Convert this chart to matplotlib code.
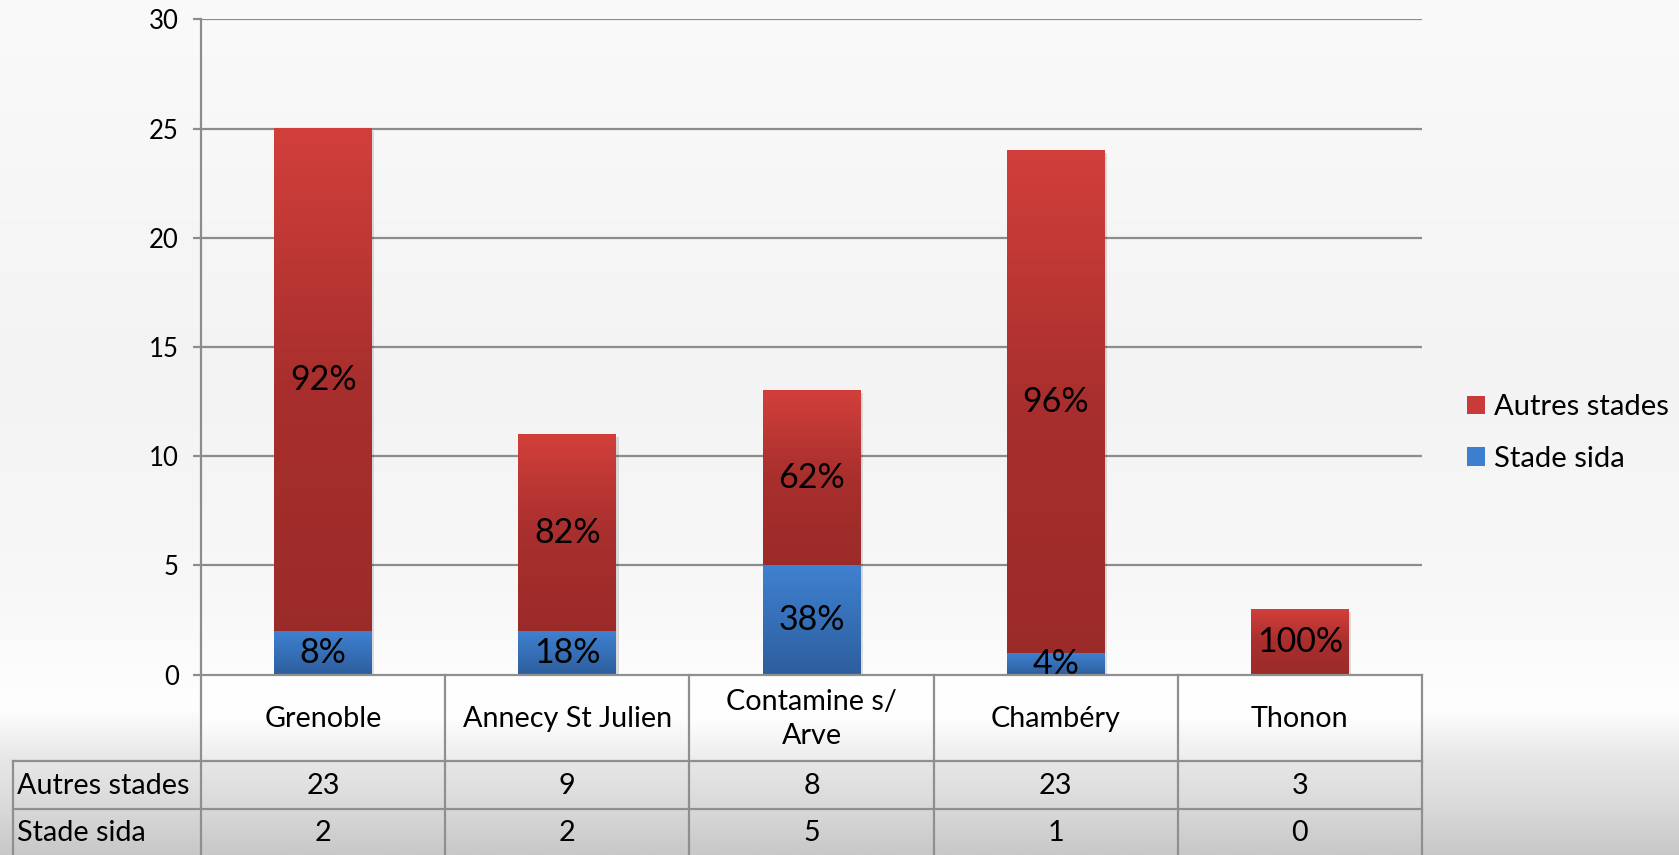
import numpy as np
import matplotlib
matplotlib.use("Agg")
import matplotlib.pyplot as plt
from matplotlib.colors import LinearSegmentedColormap
from matplotlib.patches import Rectangle
from matplotlib.transforms import ScaledTranslation

# ---- data ----
categories = ["Grenoble", "Annecy St Julien", "Contamine s/\nArve", "Chambéry", "Thonon"]
stade_sida = [2, 2, 5, 1, 0]
autres_stades = [23, 9, 8, 23, 3]
series_names = ["Autres stades", "Stade sida"]
yticks = [0, 5, 10, 15, 20, 25, 30]

plt.rcParams['font.family'] = ['Lato', 'DejaVu Sans']

W, H = 1679, 855
fig = plt.figure(figsize=(W / 100, H / 100), dpi=100)

# ---- background gradient ----
bg = fig.add_axes([0, 0, 1, 1], zorder=-10)
bg.set_axis_off()
stops = [(0.0, "#fafafa"), (0.45, "#f3f3f3"), (0.70, "#f8f8f8"), (0.83, "#fefefe"),
         (0.89, "#e7e7e7"), (0.947, "#d9d9d9"), (1.0, "#c8c8c8")]
bgcmap = LinearSegmentedColormap.from_list("bg", stops)
grad = np.linspace(0, 1, 512).reshape(-1, 1)
bg.imshow(grad, cmap=bgcmap, aspect="auto", extent=[0, 1, 0, 1], origin="upper")
bg.set_xlim(0, 1); bg.set_ylim(0, 1)

# ---- axes geometry (pixels) ----
x_left, x_right = 201, 1422
y_top, y_zero = 19.3, 674.6
ax = fig.add_axes([x_left / W, 1 - y_zero / H, (x_right - x_left) / W, (y_zero - y_top) / H])
ax.patch.set_alpha(0)

x = np.arange(len(categories))
bw = 0.4
red_cmap = LinearSegmentedColormap.from_list("red", ["#9b2b29", "#a82f2d", "#d23f3b"])
blue_cmap = LinearSegmentedColormap.from_list("blue", ["#2d5e9d", "#3f81d1"])

grid_c = "#8c8c8c"
for t in yticks[1:]:
    ax.axhline(t, color=grid_c, lw=1.6, zorder=0.5)

b1 = ax.bar(x, stade_sida, bw, color="#3d7fcf", zorder=2, label=series_names[1])
b2 = ax.bar(x, autres_stades, bw, bottom=stade_sida, color="#c83b38", zorder=2, label=series_names[0])

shadow_tr = ax.transData + ScaledTranslation(2.5 / 100, -2.5 / 100, fig.dpi_scale_trans)
vgrad = np.linspace(0, 1, 256).reshape(-1, 1)
for bars, cmap in ((b1, blue_cmap), (b2, red_cmap)):
    for p in bars:
        h = p.get_height()
        if h <= 0:
            continue
        x0, y0 = p.get_x(), p.get_y()
        sh = Rectangle((x0, y0), p.get_width(), h, transform=shadow_tr,
                       facecolor="#000000", alpha=0.12, edgecolor="none", zorder=1.5)
        ax.add_patch(sh)
        ax.imshow(vgrad, cmap=cmap, aspect="auto", origin="lower",
                  extent=[x0, x0 + p.get_width(), y0, y0 + h], zorder=2.5)

# percent labels
pfs = 24.5
for i in range(len(categories)):
    tot = stade_sida[i] + autres_stades[i]
    if stade_sida[i] > 0:
        ax.text(x[i], stade_sida[i] / 2, f"{round(100 * stade_sida[i] / tot)}%",
                ha="center", va="center", fontsize=pfs, color="#000000", zorder=4, clip_on=True)
    if autres_stades[i] > 0:
        ax.text(x[i], stade_sida[i] + autres_stades[i] / 2,
                f"{round(100 * autres_stades[i] / tot)}%",
                ha="center", va="center", fontsize=pfs, color="#000000", zorder=4, clip_on=True)

ax.set_xlim(-0.5, len(categories) - 0.5)
ax.set_ylim(0, 30)
ax.set_yticks(yticks)
ax.set_yticklabels([str(t) for t in yticks], fontsize=18.5)
ax.set_xticks([])
for s in ("top", "right", "bottom"):
    ax.spines[s].set_visible(False)
ax.spines["left"].set_color(grid_c)
ax.spines["left"].set_linewidth(1.6)
ax.tick_params(axis="y", length=6, width=1.6, color=grid_c, pad=10)

# ---- data table ----
rows_y = [y_zero, 761, 809.5, 855]
unit = (x_right - x_left) / len(categories)
lab_left = 12.8
xl = -0.5 - (x_left - lab_left) / unit
tab = fig.add_axes([lab_left / W, 0, (x_right - lab_left) / W, 1 - y_zero / H])
tab.patch.set_alpha(0)
tab.set_axis_off()

lc = "#8f8f8f"
lw = 1.6
cg = LinearSegmentedColormap.from_list("cg", ["#ffffff", "#fefefe", "#ececec"])
tab.imshow(np.linspace(0, 1, 256).reshape(-1, 1), cmap=cg, aspect="auto", origin="upper",
           extent=[-0.5, len(categories) - 0.5, rows_y[1], rows_y[0]], zorder=0)
tab.set_xlim(xl, len(categories) - 0.5)
tab.set_ylim(H, y_zero)

tab.plot([-0.5, len(categories) - 0.5], [y_zero, y_zero], color=lc, lw=lw, clip_on=False)
for yy in rows_y[1:3]:
    tab.plot([xl, len(categories) - 0.5], [yy, yy], color=lc, lw=lw, clip_on=False)
for k in range(len(categories) + 1):
    tab.plot([k - 0.5, k - 0.5], [y_zero, H], color=lc, lw=lw, clip_on=False)
tab.plot([xl, xl], [rows_y[1], H], color=lc, lw=lw, clip_on=False)

tfs = 20.7
for i, c in enumerate(categories):
    tab.text(i, (rows_y[0] + rows_y[1]) / 2 + 1, c, ha="center", va="center",
             fontsize=tfs, linespacing=1.38)
    tab.text(i, (rows_y[1] + rows_y[2]) / 2 + 1, str(autres_stades[i]), ha="center",
             va="center", fontsize=tfs)
    tab.text(i, (rows_y[2] + rows_y[3]) / 2 + 1, str(stade_sida[i]), ha="center",
             va="center", fontsize=tfs)
tab.text(xl + 0.018, (rows_y[1] + rows_y[2]) / 2 + 1, series_names[0], ha="left", va="center", fontsize=tfs)
tab.text(xl + 0.018, (rows_y[2] + rows_y[3]) / 2 + 1, series_names[1], ha="left", va="center", fontsize=tfs)

# ---- legend ----
leg = fig.legend(handles=[b2, b1], labels=series_names, loc="center left",
                 bbox_to_anchor=(1441 / W, 1 - 433 / H), frameon=False, fontsize=21,
                 handlelength=0.62, handleheight=0.62, handletextpad=0.28, labelspacing=0.87)

fig.savefig("out.png", dpi=100)
